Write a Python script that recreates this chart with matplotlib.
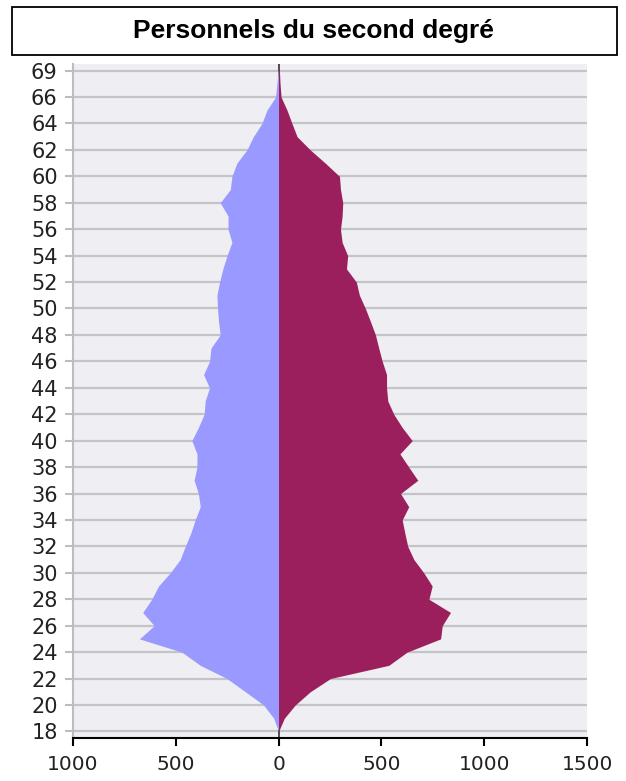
import numpy as np
import matplotlib
matplotlib.use("Agg")
import matplotlib.pyplot as plt
from matplotlib.patches import Rectangle

# ages 18..68 (top row is labelled 69 on the original chart)
ages = np.arange(18, 69)

# left side (blue) - read bottom to top
left_vals = [0, 24, 73, 162, 251, 381, 471, 677, 605, 661,
             617, 584, 527, 479, 454, 427, 406, 381, 390, 411,
             397, 397, 422, 390, 362, 357, 336, 365, 336, 329,
             284, 292, 297, 300, 287, 271, 251, 227, 246, 246,
             284, 235, 227, 203, 154, 123, 81, 57, 15, 8, 3]

# right side (dark red)
right_vals = [0, 28, 81, 154, 252, 536, 625, 788, 796, 836,
              731, 747, 706, 658, 628, 614, 601, 633, 593, 677,
              633, 590, 650, 601, 560, 531, 525, 525, 504, 487,
              471, 447, 422, 393, 378, 330, 336, 309, 301, 309,
              312, 301, 296, 227, 154, 90, 65, 41, 12, 7, 4]

ytick_pos = list(range(18, 67, 2)) + [68]
ytick_lab = [str(a) for a in range(18, 67, 2)] + ["69"]
xtick_pos = [-1000, -500, 0, 500, 1000, 1500]
xtick_lab = ["1000", "500", "0", "500", "1000", "1500"]

title = "Personnels du second degré"

fig = plt.figure(figsize=(6.26, 7.81), dpi=100)
ax = fig.add_axes([73/626, 43/781, 514/626, 674/781])
ax.set_facecolor("#eeeef3")

left = np.array(left_vals)
right = np.array(right_vals)

ax.axvline(0, color="#333333", lw=1.2, zorder=1)
ax.fill_betweenx(ages, -left, 0, color="#9999ff", lw=0, zorder=2)
ax.fill_betweenx(ages, 0, right, color="#9b1f5c", lw=0, zorder=2)

ax.set_xlim(-1000, 1500)
ax.set_ylim(17.5, 68.5)
ax.set_yticks(ytick_pos)
ax.set_yticklabels(ytick_lab)
ax.set_xticks(xtick_pos)
ax.set_xticklabels(xtick_lab)

ax.grid(axis="y", color="#c4c4c8", lw=1.6, zorder=0)
ax.set_axisbelow(True)

for s in ["top", "right"]:
    ax.spines[s].set_visible(False)
ax.spines["left"].set_color("#bdbdbd")
ax.spines["left"].set_linewidth(1.5)
ax.spines["bottom"].set_color("black")
ax.spines["bottom"].set_linewidth(1.5)

ax.tick_params(axis="y", colors="#bdbdbd", length=6, width=1.5, labelsize=15,
               labelcolor="#222222", pad=5)
ax.tick_params(axis="x", colors="black", length=6, width=1.5, labelsize=14.5,
               labelcolor="#222222", pad=6)

# title box
fig.patches.append(Rectangle((12/626, 1 - 55/781), 605/626, 48/781,
                             transform=fig.transFigure, fill=False,
                             edgecolor="black", lw=1.3))
fig.text(0.5, 1 - 31/781, title, ha="center", va="center",
         fontsize=19, fontweight="bold", family="Liberation Sans")

fig.savefig("out.png", dpi=100)
